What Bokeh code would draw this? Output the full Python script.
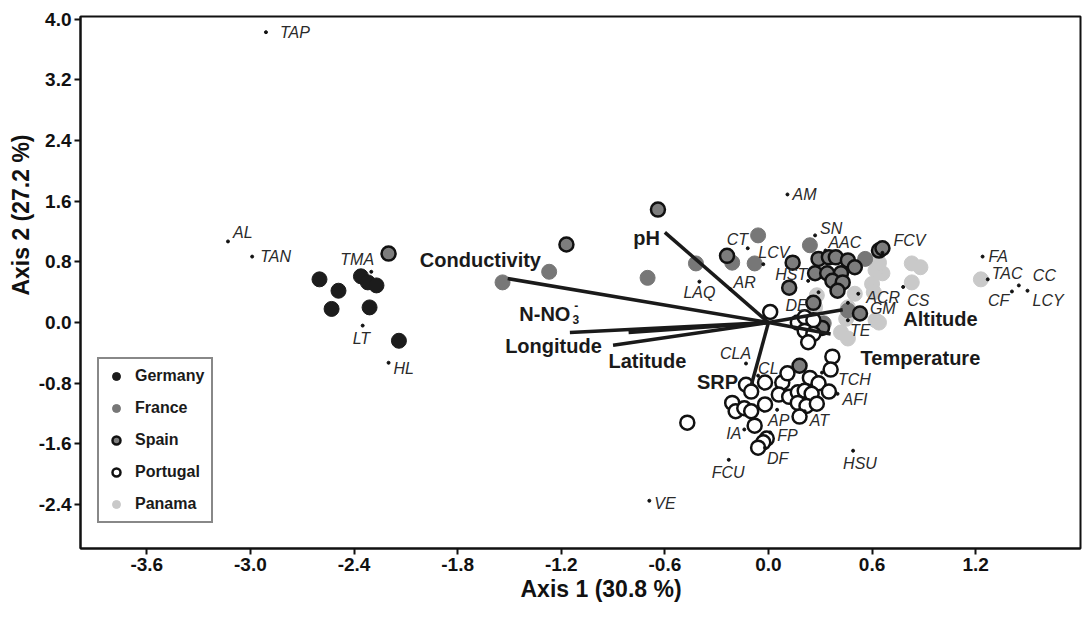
from bokeh.plotting import figure
from bokeh.models import Range1d, FixedTicker, PrintfTickFormatter, Legend, LegendItem, Label, Title, ColumnDataSource
from bokeh.core.properties import value
from bokeh.embed import file_html
from bokeh.resources import INLINE

# ---------------- data ----------------
germany_x = [-2.60, -2.49, -2.53, -2.36, -2.32, -2.27, -2.31, -2.14]
germany_y = [0.57, 0.42, 0.18, 0.61, 0.53, 0.49, 0.20, -0.24]

france_x = [-1.54, -1.27, -0.70, -0.42, -0.21, -0.08, -0.06, 0.24, 0.56, 0.32, 0.46]
france_y = [0.53, 0.67, 0.59, 0.78, 0.79, 0.78, 1.15, 1.02, 0.84, -0.01, 0.16]

spain_x = [-2.20, -1.17, -0.64, -0.24, 0.14, 0.12, 0.29, 0.35, 0.39, 0.46, 0.50, 0.27,
           0.34, 0.42, 0.37, 0.43, 0.40, 0.26, 0.31, 0.53, 0.64, 0.66, 0.18]
spain_y = [0.91, 1.03, 1.49, 0.88, 0.79, 0.46, 0.84, 0.86, 0.86, 0.82, 0.73, 0.65,
           0.65, 0.65, 0.55, 0.53, 0.42, 0.26, -0.07, 0.12, 0.95, 0.98, -0.57]

portugal_x = [0.01, 0.17, 0.21, 0.26, 0.21, 0.26, 0.23, 0.37, 0.36, -0.13, -0.10, -0.02,
              0.08, 0.11, 0.24, 0.29, 0.35, 0.06, 0.12, 0.17, 0.21, 0.25, 0.17, 0.22,
              0.28, 0.18, -0.02, -0.21, -0.19, -0.14, -0.10, -0.08, -0.01, -0.03, -0.06, -0.47]
portugal_y = [0.14, 0.00, 0.07, 0.03, -0.11, -0.15, -0.26, -0.45, -0.62, -0.82, -0.91, -0.79,
              -0.79, -0.67, -0.73, -0.80, -0.91, -0.95, -0.98, -0.92, -0.90, -0.94, -1.06, -1.10,
              -1.07, -1.24, -1.08, -1.06, -1.17, -1.13, -1.17, -1.36, -1.53, -1.58, -1.65, -1.32]

panama_x = [1.23, 0.83, 0.88, 0.83, 0.66, 0.62, 0.60, 0.64, 0.61, 0.50, 0.46, 0.62,
            0.42, 0.46, 0.28, 0.27, 0.45, 0.64]
panama_y = [0.57, 0.78, 0.73, 0.53, 0.65, 0.69, 0.51, 0.79, 0.40, 0.38, 0.20, 0.03,
            -0.13, -0.21, 0.36, 0.20, 0.05, 0.00]

site_names = ["TAP", "AL", "TAN", "TMA", "LT", "HL", "AM", "SN", "CT", "LCV", "AR", "LAQ",
              "HST", "DE", "AAC", "FCV", "ACR", "CS", "GM", "TE", "FA", "TAC", "CC", "CF",
              "LCY", "CLA", "CL", "TCH", "AFI", "AP", "AT", "IA", "FP", "DF", "FCU", "HSU", "VE"]
site_x = [-2.91, -3.13, -2.99, -2.30, -2.35, -2.20, 0.11, 0.27, -0.12, -0.03, -0.22, -0.40,
          0.23, 0.29, 0.33, 0.66, 0.52, 0.78, 0.46, 0.46, 1.24, 1.27, 1.45, 1.41,
          1.50, -0.13, -0.06, 0.31, 0.40, 0.05, 0.21, -0.14, 0.01, -0.02, -0.23, 0.49, -0.69]
site_y = [3.83, 1.07, 0.87, 0.67, -0.04, -0.53, 1.69, 1.15, 0.98, 0.77, 0.44, 0.54,
          0.55, 0.40, 0.95, 0.92, 0.38, 0.47, 0.26, 0.03, 0.87, 0.57, 0.49, 0.41,
          0.42, -0.54, -0.70, -0.66, -0.94, -1.15, -1.17, -1.41, -1.45, -1.65, -1.81, -1.69, -2.35]

vector_names = ["Conductivity", "pH", "N-NO3", "Longitude", "Latitude", "SRP", "Altitude", "Temperature"]
vector_x = [-1.51, -0.60, -1.15, -0.90, -0.81, -0.10, 0.43, 0.36]
vector_y = [0.58, 1.19, -0.13, -0.30, -0.13, -0.83, 0.17, -0.15]

x_ticks = [-3.6, -3.0, -2.4, -1.8, -1.2, -0.6, 0.0, 0.6, 1.2]
y_ticks = [-2.4, -1.6, -0.8, 0.0, 0.8, 1.6, 2.4, 3.2, 4.0]

# ---------------- label placement (screen px offsets) ----------------
site_dx = [14, 5, 8, -31, -10, 5, 5, 5, -21, -5, 3, -16,
           -33, -33, 3, 11, 8, 4, 22, 2, 6, 4, 14, -24,
           5, -26, 0, 16, 5, -9, 5, -18, 7, 2, -17, -10, 5]
site_dy = [0, -9, 0, -12, 13, 6, 0, -7, -9, -12, -7, 11,
           -6, 13, -8, -12, 4, 14, 6, 10, 0, -6, -10, 9,
           10, -10, -7, 7, 6, 11, 9, 4, 3, 11, 13, 13, 3]

FONT = "Liberation Sans"

p = figure(width=1082, height=621, output_backend="svg", toolbar_location=None,
           x_range=Range1d(-3.984, 1.807), y_range=Range1d(-2.98, 4.037),
           min_border_left=80, min_border_right=2, min_border_top=16, min_border_bottom=73)
p.xgrid.visible = False
p.ygrid.visible = False
p.outline_line_color = "#111111"
p.outline_line_width = 2
p.background_fill_color = "white"
p.border_fill_color = "white"

for ax, ticks in ((p.xaxis, x_ticks), (p.yaxis, y_ticks)):
    ax.ticker = FixedTicker(ticks=ticks)
    ax.formatter = PrintfTickFormatter(format="%.1f")
    ax.major_label_text_font = FONT
    ax.major_label_text_font_style = "bold"
    ax.major_label_text_font_size = "19px"
    ax.major_label_text_color = "#111111"
    ax.axis_line_width = 2
    ax.axis_line_color = "#111111"
    ax.major_tick_line_width = 2
    ax.major_tick_line_color = "#111111"
    ax.major_tick_out = 6
    ax.major_tick_in = 0
    ax.minor_tick_line_color = None
p.yaxis.major_label_standoff = 3
p.xaxis.major_label_standoff = 3

# axis titles
p.add_layout(Title(text="Axis 1 (30.8 %)", align="left", offset=440, standoff=0,
                   text_font=FONT, text_font_style="bold", text_font_size="23px",
                   text_color="#111111"), "below")
p.add_layout(Title(text="Axis 2 (27.2 %)", align="right", offset=118, standoff=4,
                   text_font=FONT, text_font_style="bold", text_font_size="23px",
                   text_color="#111111"), "left")

# points
r_pan = p.scatter(panama_x, panama_y, size=15, fill_color="#c9c9c9", line_color="#c9c9c9", line_width=1)
r_fra = p.scatter(france_x, france_y, size=15, fill_color="#777777", line_color="#777777", line_width=1)
r_ger = p.scatter(germany_x, germany_y, size=15, fill_color="#1c1c1c", line_color="#1c1c1c", line_width=1)
r_spa = p.scatter(spain_x, spain_y, size=14, fill_color="#7d7d7d", line_color="#111111", line_width=2.5)
r_por = p.scatter(portugal_x, portugal_y, size=14, fill_color="white", line_color="#111111", line_width=2.5)

# vectors
p.segment(x0=[0] * len(vector_x), y0=[0] * len(vector_y), x1=vector_x, y1=vector_y,
          line_color="#1a1a1a", line_width=3.5)

# sites
p.scatter(site_x, site_y, size=3, fill_color="#111111", line_color="#111111")
site_src = ColumnDataSource(dict(x=site_x, y=site_y, t=site_names, dx=site_dx, dy=site_dy))
p.text(x="x", y="y", text="t", x_offset="dx", y_offset="dy", source=site_src,
       text_font=value(FONT), text_font_style="italic", text_font_size="16px",
       text_color="#2a2a2a", text_align="left", text_baseline="middle")

# vector labels
vl = dict(Conductivity=(-1.668, 0.831), pH=(-0.706, 1.121), Longitude=(-1.245, -0.303),
          Latitude=(-0.701, -0.501), SRP=(-0.295, -0.778), Altitude=(0.996, 0.053),
          Temperature=(0.880, -0.462))
for name, (lx, ly) in vl.items():
    p.add_layout(Label(x=lx, y=ly, text=name, text_font=FONT, text_font_style="bold",
                       text_font_size="20px", text_color="#1a1a1a", text_align="center",
                       text_baseline="middle"))
p.add_layout(Label(x=-1.147, y=0.119, text="N-NO", text_font=FONT, text_font_style="bold",
                   text_font_size="20px", text_color="#1a1a1a", text_align="right", text_baseline="middle"))
p.add_layout(Label(x=-1.135, y=0.04, text="3", text_font=FONT, text_font_style="bold",
                   text_font_size="12px", text_color="#1a1a1a", text_align="left", text_baseline="middle"))
p.add_layout(Label(x=-1.125, y=0.23, text="-", text_font=FONT, text_font_style="bold",
                   text_font_size="12px", text_color="#1a1a1a", text_align="left", text_baseline="middle"))

legend = Legend(items=[LegendItem(label="Germany", renderers=[r_ger]),
                       LegendItem(label="France", renderers=[r_fra]),
                       LegendItem(label="Spain", renderers=[r_spa]),
                       LegendItem(label="Portugal", renderers=[r_por]),
                       LegendItem(label="Panama", renderers=[r_pan])],
                location=(17, 25))
legend.border_line_color = "#111111"
legend.border_line_width = 2
legend.background_fill_alpha = 1
legend.label_text_font = FONT
legend.label_text_font_style = "bold"
legend.label_text_font_size = "16px"
legend.label_text_color = "#1a1a1a"
legend.padding = 7
legend.spacing = 12
legend.glyph_width = 20
legend.glyph_height = 20
legend.label_height = 20
legend.label_standoff = 9
legend.margin = 0
p.add_layout(legend, "center")

open("out.html", "w").write(file_html(p, INLINE))
